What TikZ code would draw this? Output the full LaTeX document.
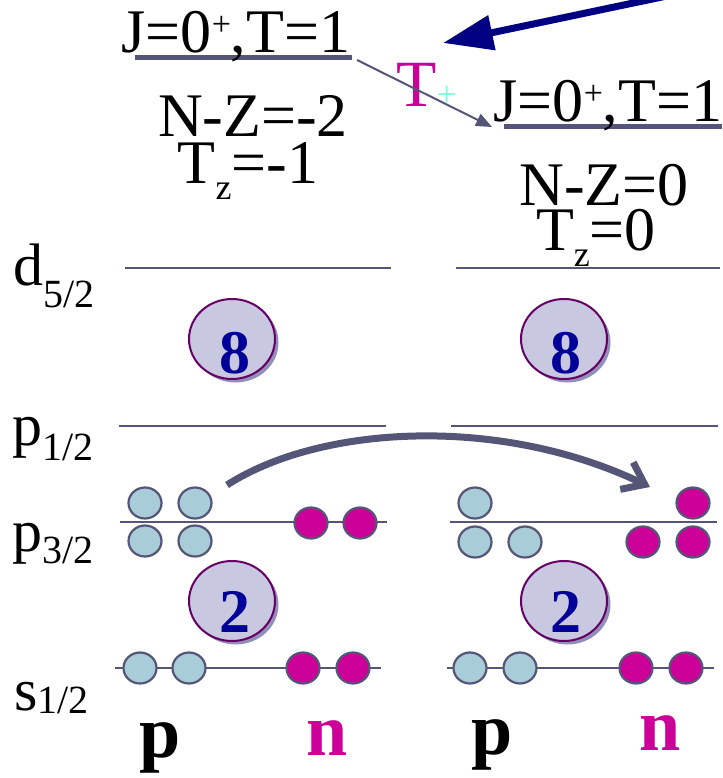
\documentclass[tikz,border=0pt]{standalone}
\usepackage{fontspec}
\setmainfont{Liberation Serif}
\usetikzlibrary{arrows.meta,shapes.geometric,shadows}
\definecolor{lvl}{HTML}{555577}
\definecolor{shellfill}{HTML}{C8C8E0}
\definecolor{shellborder}{HTML}{660066}
\definecolor{shadowcol}{HTML}{9090B8}
\definecolor{numcol}{HTML}{000099}
\definecolor{protcol}{HTML}{A8CCD8}
\definecolor{neutcol}{HTML}{CC0099}
\definecolor{pluscol}{HTML}{77FFDD}
\definecolor{navyarrow}{HTML}{000080}
\newcommand{\bigfs}{\fontsize{62}{62}\selectfont}
\newcommand{\subfs}{\fontsize{36}{36}\selectfont}
\newcommand{\lblfs}{\fontsize{60}{60}\selectfont}
\newcommand{\lsub}[2]{\raisebox{#1}{\fontsize{40}{40}\selectfont #2}}
\newcommand{\supplus}{\raisebox{17pt}{\fontsize{34}{34}\selectfont +}}
\begin{document}
\begin{tikzpicture}[x=1pt,y=-1pt,
  bigtext/.style={font=\bigfs, inner sep=0pt, anchor=base},
  lvltext/.style={font=\lblfs, inner sep=0pt, anchor=base west},
  level/.style={draw=lvl, line width=2.5pt},
  uline/.style={draw=lvl, line width=5pt},
  shell/.style={ellipse, draw=shellborder, line width=2pt, fill=shellfill,
    minimum width=86pt, minimum height=80pt, inner sep=0pt,
    drop shadow={shadow xshift=3.5pt, shadow yshift=-3.5pt, fill=shadowcol, opacity=1}},
  shellnum/.style={font=\fontsize{62}{62}\selectfont\bfseries, text=numcol, inner sep=0pt, anchor=base},
  proton/.style={ellipse, draw=lvl, line width=2.2pt, fill=protcol,
    minimum width=33pt, minimum height=31pt, inner sep=0pt},
  neutron/.style={proton, fill=neutcol},
  pnlabel/.style={font=\fontsize{74}{74}\selectfont\bfseries, inner sep=0pt, anchor=base}
]
\useasboundingbox (0,0) rectangle (722,778);

% ---- state labels
\coordinate (ulLa) at (135,58); \coordinate (ulLb) at (352,58);
\coordinate (ulRa) at (504,127); \coordinate (ulRb) at (722,127);
\draw[uline] (ulLa) -- (ulLb);
\draw[uline] (ulRa) -- (ulRb);
\node[bigtext] (JL) at (236,53) {J=0\supplus,T=1};
\node[bigtext] (JR) at (608,122) {J=0\supplus,T=1};

\node[bigtext] (NZL) at (253,137) {N-Z=-2};
\node[bigtext] (TzL) at (248,183) {T\raisebox{-16pt}{\subfs z}=-1};
\node[bigtext] (NZR) at (604,205) {N-Z=0};
\node[bigtext] (TzR) at (596,250) {T\raisebox{-16pt}{\subfs z}=0};

% T+ transition
\node[inner sep=0pt, anchor=base west, text=neutcol, font=\fontsize{66}{66}\selectfont] (Tplus) at (396,107)
  {T\textcolor{pluscol}{\fontsize{36}{36}\selectfont +}};
\coordinate (trA) at (357,60);
\coordinate (trB) at (492,127);
\draw[lvl, line width=2pt, -{Triangle[length=16pt,width=13pt]}] (trA) -- (trB);

% big navy arrow
\coordinate (bigS) at (700,-11);
\coordinate (bigT) at (443,43);
\draw[navyarrow, line width=7pt, -{Triangle[length=50pt,width=34pt]}] (bigS) -- (bigT);

% ---- level labels
\node[lvltext] (d52) at (13,285) {d\lsub{-22pt}{5/2}};
\node[lvltext] (p12) at (12,445) {p\lsub{-15pt}{1/2}};
\node[lvltext] (p32) at (12,551) {p\lsub{-12pt}{3/2}};
\node[lvltext] (s12) at (14,710) {s\lsub{-3pt}{1/2}};

% ---- levels
\coordinate (dLa) at (125,268); \coordinate (dLb) at (391,268);
\coordinate (dRa) at (456,268); \coordinate (dRb) at (720,268);
\coordinate (pLa) at (119,426); \coordinate (pLb) at (386,426);
\coordinate (pRa) at (451,426); \coordinate (pRb) at (718,426);
\coordinate (qLa) at (120,522); \coordinate (qLb) at (387,522);
\coordinate (qRa) at (450,522); \coordinate (qRb) at (717,522);
\coordinate (sLa) at (115,668); \coordinate (sLb) at (381,668);
\coordinate (sRa) at (447,668); \coordinate (sRb) at (714,668);
\foreach \a/\b in {dLa/dLb,dRa/dRb,pLa/pLb,pRa/pRb,qLa/qLb,qRa/qRb,sLa/sLb,sRa/sRb}
  \draw[level] (\a) -- (\b);

% ---- shells
\node[shell] (c8L) at (232,339) {};
\node[shell] (c8R) at (564,339) {};
\node[shell] (c2L) at (232,601) {};
\node[shell] (c2R) at (564,601) {};
\node[shellnum] (n8L) at (235,373) {8};
\node[shellnum] (n8R) at (566,373) {8};
\node[shellnum] (n2L) at (235,632) {2};
\node[shellnum] (n2R) at (566,632) {2};

% ---- left p3/2
\node[proton] (lp1) at (145,503) {};
\node[proton] (lp2) at (195,503) {};
\node[proton] (lp3) at (145,541) {};
\node[proton] (lp4) at (195,541) {};
\node[neutron] (ln1) at (311,523) {};
\node[neutron] (ln2) at (360,523) {};
% ---- right p3/2
\node[proton] (rp1) at (475,503) {};
\node[proton] (rp2) at (475,542) {};
\node[proton] (rp3) at (525,542) {};
\node[neutron] (rn1) at (693,503) {};
\node[neutron] (rn2) at (643,542) {};
\node[neutron] (rn3) at (693,542) {};
% ---- s1/2
\node[proton] (ls1) at (140,668) {};
\node[proton] (ls2) at (189,668) {};
\node[neutron] (ls3) at (303,668) {};
\node[neutron] (ls4) at (353,668) {};
\node[proton] (rs1) at (470,668) {};
\node[proton] (rs2) at (520,668) {};
\node[neutron] (rs3) at (636,668) {};
\node[neutron] (rs4) at (686,668) {};

% ---- curved arrow
\coordinate (cvA) at (227,485);
\coordinate (cvB) at (650,487);
\draw[lvl, line width=7pt, -{Straight Barb[length=20pt,width=30pt]}]
  (cvA) .. controls (320,425) and (500,415) .. (cvB);

% ---- p / n labels
\node[pnlabel] (pL) at (160,757) {p};
\node[pnlabel, text=neutcol] (nL) at (327,755) {n};
\node[pnlabel] (pR) at (492,754) {p};
\node[pnlabel, text=neutcol] (nR) at (660,750) {n};
\end{tikzpicture}
\end{document}
